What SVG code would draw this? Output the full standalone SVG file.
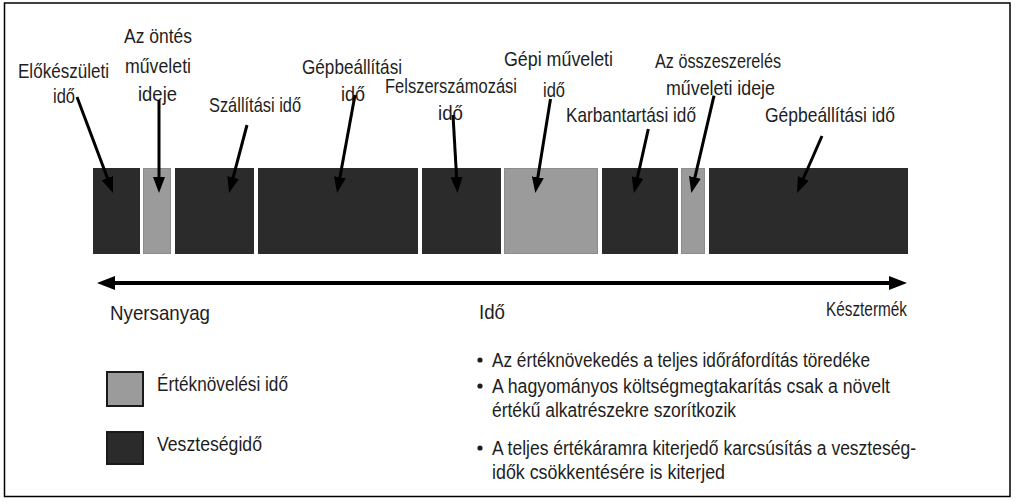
<svg xmlns="http://www.w3.org/2000/svg" width="1016" height="502" viewBox="0 0 1016 502">
<defs>
<style>
text{font-family:"Liberation Sans",Arial,sans-serif;font-size:21px;fill:#1e1e1e;}
.t{font-size:19.5px;}
.dark{fill:#2b2b2b;}
.gray{fill:#9b9b9b;stroke:#8c8c8c;stroke-width:1;}
.arr{stroke:#000;stroke-width:3;fill:none;}
.axis{stroke:#000;stroke-width:4;fill:none;}
</style>
<marker id="ah" markerUnits="userSpaceOnUse" markerWidth="16" markerHeight="12" refX="4" refY="6" orient="auto">
<path d="M0,0 L16,6 L0,12 z" fill="#000"/>
</marker>
<marker id="ah2" markerUnits="userSpaceOnUse" markerWidth="18" markerHeight="14" refX="4" refY="7" orient="auto-start-reverse">
<path d="M0,0 L18,7 L0,14 z" fill="#000"/>
</marker>
</defs>
<rect x="0" y="0" width="1016" height="502" fill="#fff"/>
<rect x="4.5" y="3" width="1005.5" height="493.5" fill="none" stroke="#000" stroke-width="1.5"/>

<g id="bars">
<rect id="b1" class="dark" x="93" y="168" width="47" height="86"/>
<rect id="b2" class="gray" x="143.5" y="168.5" width="27" height="85"/>
<rect id="b3" class="dark" x="175" y="168" width="79" height="86"/>
<rect id="b4" class="dark" x="258" y="168" width="160" height="86"/>
<rect id="b5" class="dark" x="422" y="168" width="79" height="86"/>
<rect id="b6" class="gray" x="504.5" y="168.5" width="93" height="85"/>
<rect id="b7" class="dark" x="602" y="168" width="76" height="86"/>
<rect id="b8" class="gray" x="681.5" y="168.5" width="23" height="85"/>
<rect id="b9" class="dark" x="709" y="168" width="199" height="86"/>
</g>

<g id="lbl-elokeszuleti">
<text x="18" y="78" textLength="91" lengthAdjust="spacingAndGlyphs">Előkészületi</text>
<text x="53" y="103" textLength="22" lengthAdjust="spacingAndGlyphs">idő</text>
</g>
<g id="lbl-ontes">
<text x="124" y="43" textLength="68" lengthAdjust="spacingAndGlyphs">Az öntés</text>
<text x="125" y="73" textLength="66" lengthAdjust="spacingAndGlyphs">műveleti</text>
<text x="138" y="101" textLength="39" lengthAdjust="spacingAndGlyphs">ideje</text>
</g>
<g id="lbl-szallitasi">
<text x="209" y="112" textLength="92" lengthAdjust="spacingAndGlyphs">Szállítási idő</text>
</g>
<g id="lbl-gepbeallitasi1">
<text x="302" y="74" textLength="100" lengthAdjust="spacingAndGlyphs">Gépbeállítási</text>
<text x="341" y="101" textLength="24" lengthAdjust="spacingAndGlyphs">idő</text>
</g>
<g id="lbl-felszerszamozasi">
<text x="385" y="93" textLength="132" lengthAdjust="spacingAndGlyphs">Felszerszámozási</text>
<text x="438" y="120" textLength="25" lengthAdjust="spacingAndGlyphs">idő</text>
</g>
<g id="lbl-gepi">
<text x="504" y="66" textLength="109" lengthAdjust="spacingAndGlyphs">Gépi műveleti</text>
<text x="543" y="97" textLength="22" lengthAdjust="spacingAndGlyphs">idő</text>
</g>
<g id="lbl-karbantartasi">
<text x="566" y="122" textLength="130" lengthAdjust="spacingAndGlyphs">Karbantartási idő</text>
</g>
<g id="lbl-osszeszereles">
<text x="655" y="68" textLength="126" lengthAdjust="spacingAndGlyphs">Az összeszerelés</text>
<text x="666" y="95" textLength="109" lengthAdjust="spacingAndGlyphs">műveleti ideje</text>
</g>
<g id="lbl-gepbeallitasi2">
<text x="765" y="122" textLength="130" lengthAdjust="spacingAndGlyphs">Gépbeállítási idő</text>
</g>

<g id="connectors">
<line class="arr" x1="77" y1="97" x2="108.8" y2="181.8" marker-end="url(#ah)"/>
<line class="arr" x1="159" y1="100" x2="159" y2="181" marker-end="url(#ah)"/>
<line class="arr" x1="247" y1="125" x2="232.1" y2="181.4" marker-end="url(#ah)"/>
<line class="arr" x1="355" y1="95" x2="339.2" y2="181.2" marker-end="url(#ah)"/>
<line class="arr" x1="453" y1="115" x2="456.8" y2="181" marker-end="url(#ah)"/>
<line class="arr" x1="550.5" y1="99" x2="537.2" y2="181.2" marker-end="url(#ah)"/>
<line class="arr" x1="648.3" y1="129" x2="636.6" y2="181.3" marker-end="url(#ah)"/>
<line class="arr" x1="714" y1="95.6" x2="694" y2="181.3" marker-end="url(#ah)"/>
<line class="arr" x1="822" y1="136" x2="801.8" y2="182" marker-end="url(#ah)"/>
<line class="axis" x1="111" y1="283" x2="893" y2="283" marker-start="url(#ah2)" marker-end="url(#ah2)"/>
</g>

<g id="axis-labels">
<text x="110" y="320" textLength="100" lengthAdjust="spacingAndGlyphs">Nyersanyag</text>
<text x="479" y="319" textLength="26" lengthAdjust="spacingAndGlyphs">Idő</text>
<text x="826" y="316" textLength="81" lengthAdjust="spacingAndGlyphs">Késztermék</text>
</g>

<g id="legend-value">
<rect x="107" y="372" width="36" height="34" fill="#9b9b9b" stroke="#1a1a1a" stroke-width="2"/>
<text x="157" y="391" textLength="131" lengthAdjust="spacingAndGlyphs">Értéknövelési idő</text>
</g>
<g id="legend-waste">
<rect x="107" y="432" width="36" height="32" fill="#2b2b2b" stroke="#1a1a1a" stroke-width="2"/>
<text x="157" y="451" textLength="105" lengthAdjust="spacingAndGlyphs">Veszteségidő</text>
</g>

<g id="bullets">
<circle cx="480" cy="360" r="2.6" fill="#1e1e1e"/>
<circle cx="480" cy="386" r="2.6" fill="#1e1e1e"/>
<circle cx="480" cy="448" r="2.6" fill="#1e1e1e"/>
<text class="t" x="492" y="367" textLength="378" lengthAdjust="spacingAndGlyphs">Az értéknövekedés a teljes időráfordítás töredéke</text>
<text class="t" x="492" y="393" textLength="398" lengthAdjust="spacingAndGlyphs">A hagyományos költségmegtakarítás csak a növelt</text>
<text class="t" x="492" y="417" textLength="244" lengthAdjust="spacingAndGlyphs">értékű alkatrészekre szorítkozik</text>
<text class="t" x="492" y="455" textLength="424" lengthAdjust="spacingAndGlyphs">A teljes értékáramra kiterjedő karcsúsítás a veszteség-</text>
<text class="t" x="492" y="479" textLength="233" lengthAdjust="spacingAndGlyphs">idők csökkentésére is kiterjed</text>
</g>
</svg>
